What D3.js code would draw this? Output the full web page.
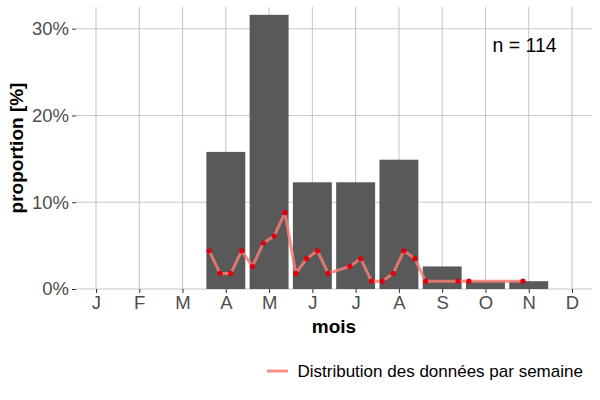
<!DOCTYPE html>
<html>
<head>
<meta charset="utf-8">
<script src="https://cdn.jsdelivr.net/npm/d3@7"></script>
<style>
  body { margin: 0; background: #fff; }
  svg { font-family: "Liberation Sans", Arial, sans-serif; }
</style>
</head>
<body>
<div id="chart"></div>
<script>
// month labels and bar values (% of n)
var months = ["J", "F", "M", "A", "M", "J", "J", "A", "S", "O", "N", "D"];
var barMonths = [4, 5, 6, 7, 8, 9, 10, 11];
var barValues = [15.8, 31.6, 12.3, 12.3, 14.9, 2.6, 0.9, 0.9];

// weekly distribution (week number, %)
var weeks = [14, 15, 16, 17, 18, 19, 20, 21, 22, 23, 24, 25, 27, 28, 29, 30, 31, 32, 33, 34, 37, 38, 43];
var weekValues = [4.4, 1.8, 1.8, 4.4, 2.6, 5.3, 6.1, 8.8, 1.8, 3.5, 4.4, 1.8, 2.6, 3.5, 0.9, 0.9, 1.8, 4.4, 3.5, 0.9, 0.9, 0.9, 0.9];

var yTicks = [0, 10, 20, 30];
var nLabel = "n = 114";

var margin = {top: 7, right: 8, bottom: 111, left: 76},
    width = 600 - margin.left - margin.right,
    height = 400 - margin.top - margin.bottom;

function weekToMonth(w) { return w / 4 + 0.117; }

var svg = d3.select("#chart").append("svg")
    .attr("width", 600)
    .attr("height", 400);

var g = svg.append("g")
    .attr("transform", "translate(" + margin.left + "," + margin.top + ")");

var x = d3.scaleLinear().domain([0.538, 12.462]).range([0, width]);
var y = d3.scaleLinear().domain([0, 32.5]).range([height, 0]);

// grid
g.append("g").selectAll("line")
    .data(yTicks)
    .enter().append("line")
    .attr("x1", 0).attr("x2", width)
    .attr("y1", function(d) { return y(d); })
    .attr("y2", function(d) { return y(d); })
    .attr("stroke", "#c8c8c8").attr("stroke-width", 1.1);

g.append("g").selectAll("line")
    .data(d3.range(1, 13))
    .enter().append("line")
    .attr("x1", function(d) { return x(d); })
    .attr("x2", function(d) { return x(d); })
    .attr("y1", 0).attr("y2", height)
    .attr("stroke", "#c8c8c8").attr("stroke-width", 1.1);

// bars
var bw = x(1.9) - x(1);
g.append("g").selectAll("rect")
    .data(barMonths)
    .enter().append("rect")
    .attr("x", function(d) { return x(d) - bw / 2; })
    .attr("width", bw)
    .attr("y", function(d, i) { return y(barValues[i]); })
    .attr("height", function(d, i) { return height - y(barValues[i]); })
    .attr("fill", "#595959");

// weekly line
var line = d3.line()
    .x(function(d) { return x(weekToMonth(d)); })
    .y(function(d, i) { return y(weekValues[i]); });

g.append("path")
    .datum(weeks)
    .attr("d", line)
    .attr("fill", "none")
    .attr("stroke", "#f47c74")
    .attr("stroke-opacity", 0.85)
    .attr("stroke-width", 3)
    .attr("stroke-linejoin", "round");

g.append("g").selectAll("circle")
    .data(weeks)
    .enter().append("circle")
    .attr("cx", function(d) { return x(weekToMonth(d)); })
    .attr("cy", function(d, i) { return y(weekValues[i]); })
    .attr("r", 2.6)
    .attr("fill", "#e0000b");

// axes
var xAxis = d3.axisBottom(x)
    .tickValues(d3.range(1, 13))
    .tickFormat(function(d) { return months[d - 1]; })
    .tickSize(4).tickPadding(3);

var yAxis = d3.axisLeft(y)
    .tickValues(yTicks)
    .tickFormat(function(d) { return d + "%"; })
    .tickSize(4).tickPadding(3);

var xg = g.append("g")
    .attr("transform", "translate(0," + height + ")")
    .call(xAxis);
var yg = g.append("g").call(yAxis);

[xg, yg].forEach(function(a) {
    a.select(".domain").remove();
    a.selectAll(".tick line").attr("stroke", "#333").attr("stroke-width", 1);
    a.selectAll("text").attr("fill", "#4d4d4d").style("font-size", "18.5px");
});

// titles
svg.append("text")
    .attr("x", margin.left + x(6.5))
    .attr("y", 333)
    .attr("text-anchor", "middle")
    .style("font-size", "19px").style("font-weight", "bold")
    .text("mois");

svg.append("text")
    .attr("transform", "translate(23," + (margin.top + height / 2) + ") rotate(-90)")
    .attr("text-anchor", "middle")
    .style("font-size", "19px").style("font-weight", "bold")
    .text("proportion [%]");

svg.append("text")
    .attr("x", 524.5)
    .attr("y", 52)
    .attr("text-anchor", "middle")
    .style("font-size", "19.5px")
    .text(nLabel);

// legend
var lg = svg.append("g").attr("transform", "translate(267,371)");
lg.append("line")
    .attr("x1", 0).attr("x2", 21)
    .attr("stroke", "#f47c74").attr("stroke-opacity", 0.85).attr("stroke-width", 3);
lg.append("text")
    .attr("x", 30.5).attr("dy", "0.35em")
    .style("font-size", "17px")
    .text("Distribution des données par semaine");
</script>
</body>
</html>
